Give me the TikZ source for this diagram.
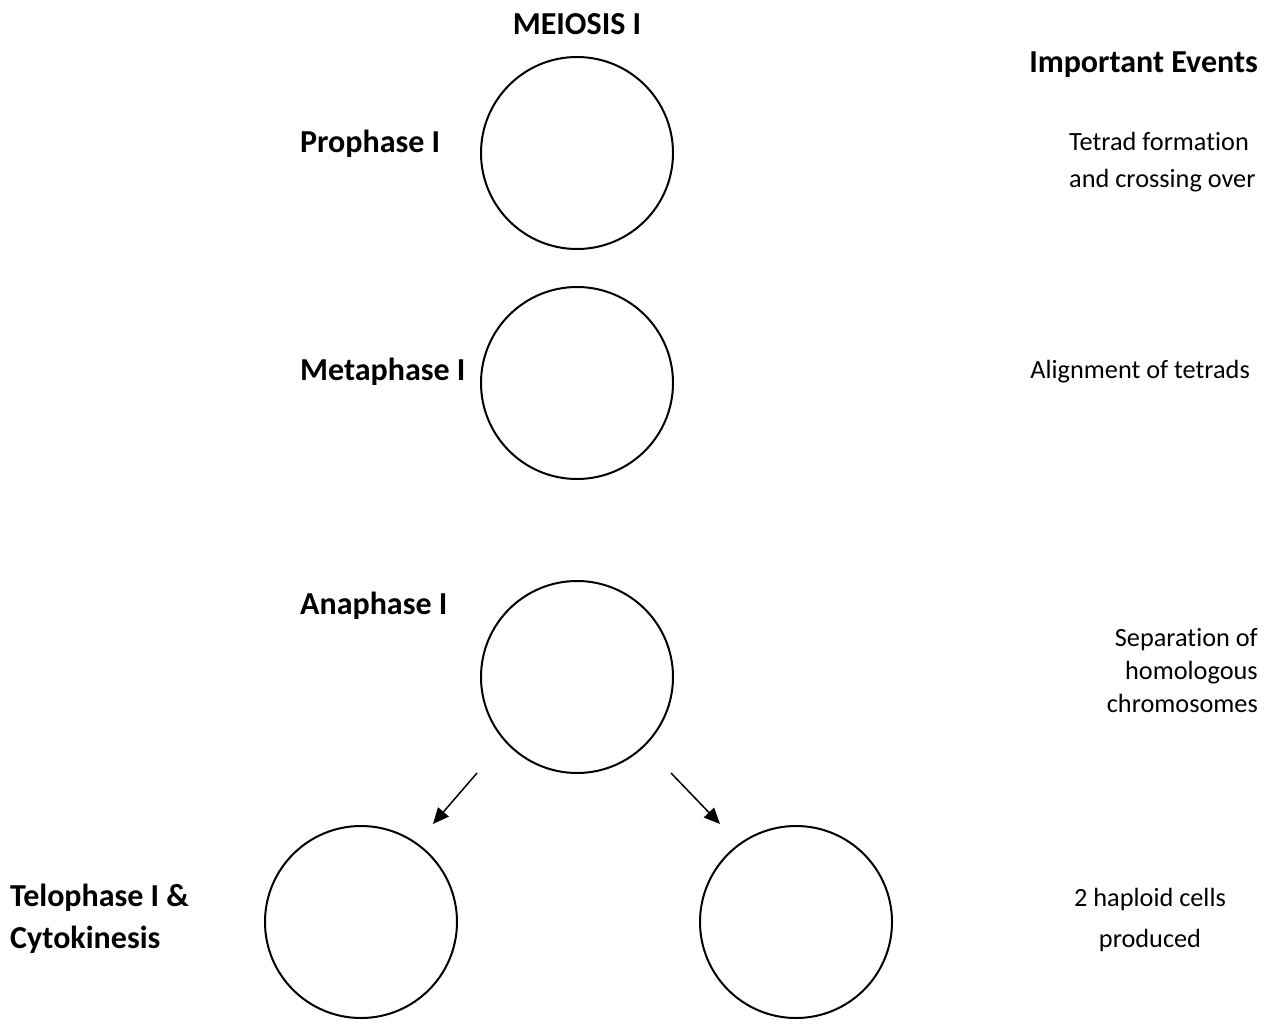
\documentclass[tikz,border=0pt]{standalone}
\usepackage{fontspec}
\setmainfont{Carlito}[Ligatures=NoCommon]
\usetikzlibrary{arrows.meta}

\begin{document}
\begin{tikzpicture}[
  x=1pt, y=-1pt,
  cell/.style={draw, circle, line width=2pt, minimum size=192pt, inner sep=0pt},
  phase/.style={font=\fontsize{32}{40}\selectfont\bfseries, anchor=base west, inner sep=0pt, align=left},
  head/.style={font=\fontsize{32}{40}\selectfont\bfseries, anchor=base, inner sep=0pt},
  event/.style={font=\fontsize{26.3}{34}\selectfont, anchor=base, inner sep=0pt},
  line/.style={-{Triangle[length=16pt,width=14pt]}, line width=1.5pt}
]
\useasboundingbox (0,0) rectangle (1273,1019);
% headings
\node[head] (title) at (577,35) {MEIOSIS I};
\node[head, anchor=base east] (events) at (1258,73) {Important Events};
% cells
\node[cell] (pro) at (577,153) {};
\node[cell] (meta) at (577,383) {};
\node[cell] (ana) at (577,677) {};
\node[cell] (telL) at (361,922) {};
\node[cell] (telR) at (796,922) {};
% phase names (base = last line)
\node[phase] (proname) at (300,153) {Prophase I};
\node[phase] (metaname) at (300,380) {Metaphase I};
\node[phase] (ananame) at (300,614) {Anaphase I};
\node[phase] (telname) at (10,948) {Telophase I \&\\[2pt]Cytokinesis};
% events
\node[event, anchor=base west, align=left] (proev) at (1069,187) {Tetrad formation\\[2pt]and crossing over};
\node[event, anchor=base east] (metaev) at (1250,378) {Alignment of tetrads};
\node[event, anchor=base east, align=right] (anaev) at (1258,712) {Separation of\\[-1pt]homologous\\[-1pt]chromosomes};
\node[event, align=center] (telev) at (1150,947) {2 haploid cells\\[7pt]produced};
% split
\coordinate (splitL) at (477,773);
\coordinate (splitR) at (671,773);
\coordinate (tipL) at (433,824);
\coordinate (tipR) at (720,824);
\draw[line] (splitL) -- (tipL);
\draw[line] (splitR) -- (tipR);
\end{tikzpicture}
\end{document}
